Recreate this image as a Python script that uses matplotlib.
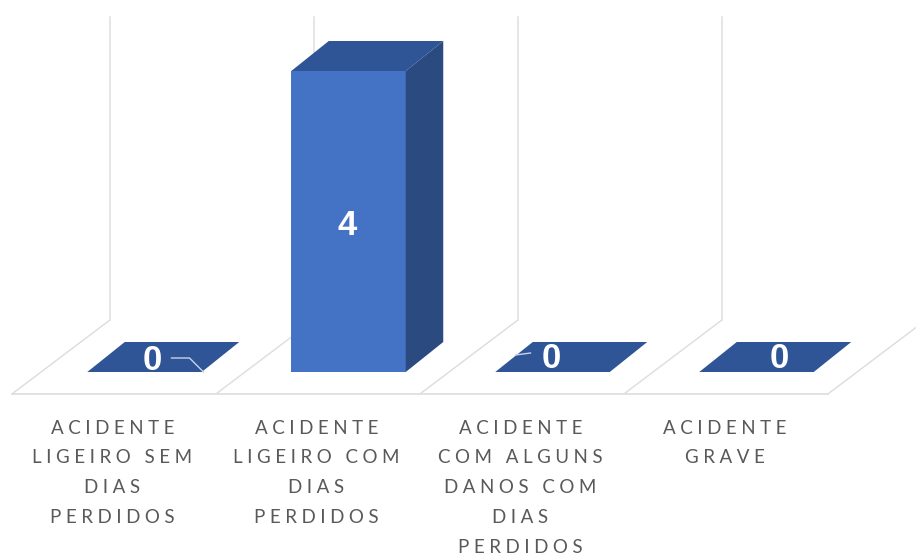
import numpy as np
import matplotlib
matplotlib.use('Agg')
import matplotlib.pyplot as plt
from matplotlib.patches import Polygon

# data
categories = [
    'ACIDENTE\nLIGEIRO SEM\nDIAS\nPERDIDOS',
    'ACIDENTE\nLIGEIRO COM\nDIAS\nPERDIDOS',
    'ACIDENTE\nCOM ALGUNS\nDANOS COM\nDIAS\nPERDIDOS',
    'ACIDENTE\nGRAVE',
]
values = [0, 4, 0, 0]

# pixel scale of the reference
W, H = 916, 556
px_x = 204.0      # px per category
px_y = 75.25      # px per unit of value
x0 = 144.5        # px of first bar centre
y0 = 372.0        # px of value 0
floor_y = 394.0   # px of front floor edge

front = '#4472c4'
top = '#2f5597'
side = '#2b4a80'
grid = '#dfdfdf'
HAIR = '\u200a'


def spaced(label):
    # letter spacing, matplotlib has no option for it
    return '\n'.join((HAIR * 4).join(line) for line in label.split('\n'))


fig = plt.figure(figsize=(W / 100, H / 100), dpi=100)
ax = fig.add_axes([0, 1 - floor_y / H, 1, floor_y / H])
ax.set_xlim(-x0 / px_x, (W - x0) / px_x)
ax.set_ylim(-(floor_y - y0) / px_y, y0 / px_y)
for s in ax.spines.values():
    s.set_visible(False)
ax.yaxis.set_visible(False)

x = np.arange(len(values))
bar_w = 114.5 / px_x
dx = 37.5 / px_x
dy = 30.0 / px_y

# floor and walls
floor_front = -(floor_y - y0) / px_y
floor_back = (y0 - 320) / px_y
wall_top = (y0 - 17) / px_y
edges = np.arange(len(values) + 1) - 0.65
shift = 98 / px_x
ax.plot([edges[0], edges[-1]], [floor_front, floor_front], color=grid, lw=1.3, zorder=1, clip_on=False)
for e in edges:
    ax.plot([e, e + shift], [floor_front, floor_back], color=grid, lw=1.1, zorder=1)
for e in edges[:-1]:
    ax.plot([e + shift, e + shift], [floor_back, wall_top], color=grid, lw=1.1, zorder=1)

# bars, front face then the fake 3d faces
ax.bar(x, values, width=bar_w, color=front, zorder=3)
for xi, v in zip(x, values):
    l, r = xi - bar_w / 2, xi + bar_w / 2
    ax.add_patch(Polygon([(l, v), (r, v), (r + dx, v + dy), (l + dx, v + dy)],
                         closed=True, fc=top, ec='none', zorder=3))
    if v > 0:
        ax.add_patch(Polygon([(r, 0), (r + dx, dy), (r + dx, v + dy), (r, v)],
                             closed=True, fc=side, ec='none', zorder=3))

# value labels, offsets in px from the bar centre
label_dx = [7.5, -1, -1.5, 23]
label_dy = [11, -4, 14, 14]
for xi, v, ox, oy in zip(x, values, label_dx, label_dy):
    ypos = v / 2 if v > 0 else 0
    ax.annotate(str(v), (xi, ypos), xytext=(ox * 0.72, oy * 0.72), textcoords='offset points',
                ha='center', va='center', color='white', fontsize=25, fontweight='bold',
                family='Liberation Sans', zorder=5)

# leader lines on the zero labels
ax.plot(x[0] + np.array([27, 45, 59]) / px_x, np.array([14, 14, 0]) / px_y, color='#c9d3e6', lw=1, zorder=4)
ax.plot(x[2] + np.array([-37, -22]) / px_x, np.array([17, 19]) / px_y, color='#c9d3e6', lw=1, zorder=4)

# category labels
ax.set_xticks(x - 32 / px_x)
ax.set_xticklabels([spaced(c) for c in categories], family=['Lato', 'DejaVu Sans'],
                   fontsize=13.5, color='#595959', linespacing=1.91, va='top')
ax.tick_params(axis='x', length=0, pad=18.5)

fig.savefig('out.png', dpi=100, facecolor='white')
